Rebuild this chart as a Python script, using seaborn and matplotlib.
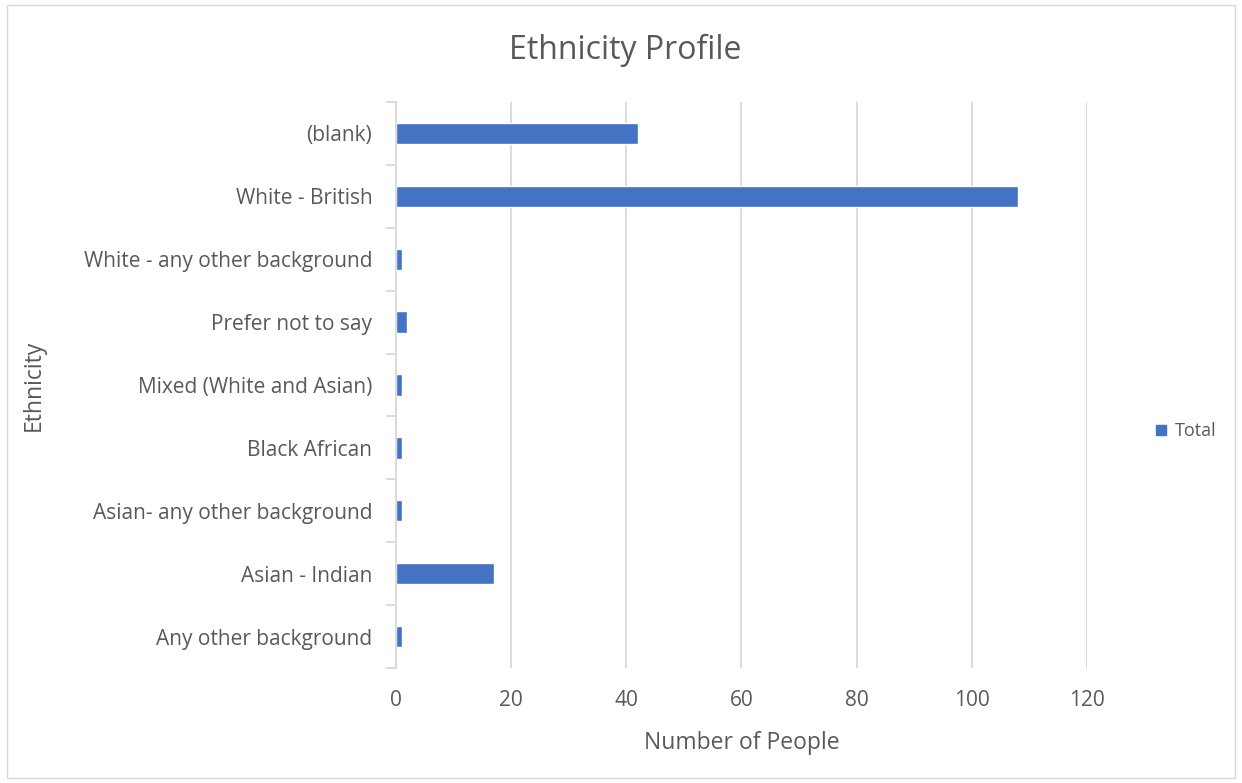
import matplotlib
matplotlib.use("Agg")
import matplotlib.pyplot as plt
import seaborn as sns
import pandas as pd
import numpy as np
from matplotlib.patches import Rectangle, Patch

categories = ["(blank)", "White - British", "White - any other background",
              "Prefer not to say", "Mixed (White and Asian)", "Black African",
              "Asian- any other background", "Asian - Indian", "Any other background"]
totals = [42, 108, 1, 2, 1, 1, 1, 17, 1]
xticks = [0, 20, 40, 60, 80, 100, 120]

sns.set_theme(style="white")
plt.rcParams['font.family'] = ['Open Sans', 'DejaVu Sans']
txt = "#595959"
grid = "#D9D9D9"
blue = "#4472C4"

df = pd.DataFrame({"Ethnicity": categories, "Total": totals})

fig = plt.figure(figsize=(12.42, 7.83), dpi=100)
ax = fig.add_axes([0.3188, 0.1469, 0.8752 - 0.3188, 0.8697 - 0.1469])
sns.barplot(data=df, y="Ethnicity", x="Total", orient="h", color=blue,
            width=0.34, ax=ax, saturation=1, order=categories)

ax.set_xlim(0, 120)
ax.set_ylim(len(categories) - 0.5, -0.5)
ax.set_xticks(xticks)
ax.set_xticklabels([str(v) for v in xticks], color=txt, fontsize=15)
ax.tick_params(axis="y", which="major", length=0, labelsize=15, labelcolor=txt, pad=17)
ax.tick_params(axis="x", which="major", length=0, pad=16)
ax.set_yticks(np.arange(-0.5, len(categories), 1), minor=True)
ax.tick_params(axis="y", which="minor", left=True, length=7, width=1.3, color=grid, direction="out")
ax.xaxis.grid(True, color=grid, linewidth=1.3)
ax.set_axisbelow(True)
for s in ["top", "right", "bottom"]:
    ax.spines[s].set_visible(False)
ax.spines["left"].set_color(grid)
ax.spines["left"].set_linewidth(1.3)

ax.set_xlabel("Number of People", color=txt, fontsize=16.5, labelpad=14)
ax.set_ylabel("")
fig.text(0.027, 0.508, "Ethnicity", ha="center", va="center", rotation=90, color=txt, fontsize=16.5)
fig.text(0.503, 0.936, "Ethnicity Profile", ha="center", va="center", color=txt, fontsize=23)

leg = fig.legend(handles=[Patch(color=blue, label="Total")], loc="center left",
                 bbox_to_anchor=(0.918, 0.449), frameon=False, fontsize=13,
                 handlelength=0.55, handleheight=0.55, handletextpad=0.5)
for t in leg.get_texts():
    t.set_color(txt)

fig.patches.append(Rectangle((0.006, 0.006), 0.988, 0.988, transform=fig.transFigure,
                             fill=False, edgecolor=grid, linewidth=1))

fig.savefig("out.png", dpi=100)
